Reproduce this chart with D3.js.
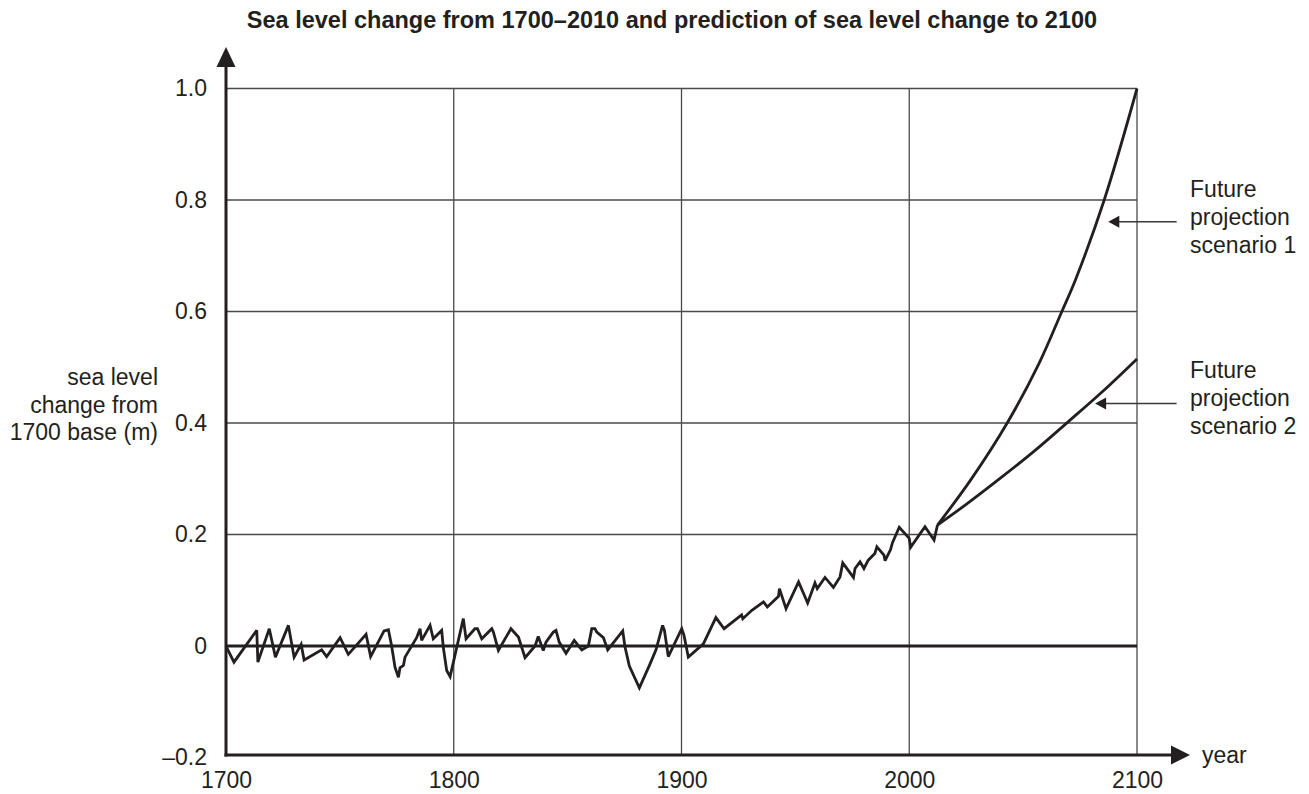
<!DOCTYPE html>
<html><head><meta charset="utf-8">
<script src="https://cdn.jsdelivr.net/npm/d3@7"></script>
<style>
body{margin:0;background:#fff}
svg text{font-family:"Liberation Sans",Arial,Helvetica,sans-serif;fill:#231f20}
</style>
</head><body>
<svg id="chart" width="1309" height="794"></svg>
<script>
// ---------- data ----------
const histYears = [1700,1703.5,1713.5,1714,1719,1721.7,1727.4,1729.9,1733,1734.3,1742,1744.2,1750.1,1753.7,1761.5,1763.5,1769.4,1771.3,1772.7,1774.2,1775.7,1776.4,1777.9,1778.6,1783.7,1785.2,1785.9,1789.6,1791,1794.7,1795.4,1796.9,1798.4,1804.2,1805.4,1809.3,1810.4,1812.3,1816.7,1817.4,1819.6,1825.1,1828.4,1831.3,1835.7,1837.1,1839.3,1840.5,1843.7,1844.9,1846.3,1849.3,1852.9,1856.2,1859.1,1860.6,1862,1862.8,1865.7,1867.6,1874.2,1875.2,1877.1,1881.5,1886.2,1888.8,1891.7,1892.5,1894.2,1900.1,1901.1,1903,1909.6,1915.1,1918.7,1926.4,1926.9,1930.9,1936,1937.7,1942.6,1943,1945.9,1951.4,1955.4,1958.6,1959.6,1963,1966.7,1969.6,1970.8,1975.5,1976.2,1978.4,1980.1,1982,1984.9,1985.8,1988.9,1989.4,1991.8,1992.6,1995.6,2000,2000.6,2006.9,2010.9,2012.4];
const histValues = [0,-0.029,0.028,-0.029,0.031,-0.02,0.037,-0.02,0.003,-0.025,-0.007,-0.019,0.015,-0.015,0.021,-0.019,0.027,0.029,0.001,-0.038,-0.056,-0.039,-0.035,-0.02,0.015,0.031,0.01,0.037,0.013,0.028,-0.002,-0.044,-0.055,0.049,0.013,0.031,0.031,0.013,0.031,0.025,-0.008,0.031,0.016,-0.021,0,0.017,-0.008,0.007,0.025,0.028,0.007,-0.013,0.01,-0.007,0,0.031,0.031,0.025,0.015,-0.007,0.027,-0.002,-0.036,-0.075,-0.032,-0.007,0.037,0.028,-0.019,0.031,0.019,-0.02,0.004,0.051,0.031,0.056,0.049,0.064,0.079,0.07,0.089,0.103,0.067,0.115,0.077,0.113,0.103,0.123,0.105,0.124,0.149,0.123,0.139,0.151,0.139,0.154,0.166,0.178,0.163,0.153,0.173,0.185,0.213,0.193,0.177,0.214,0.19,0.217];

const scen1Years  = [2012.4,2027,2043,2057,2067,2073,2085.6,2100];
const scen1Values = [0.217,0.298,0.4,0.507,0.6,0.657,0.8,1.0];
const scen2Years  = [2012.4,2025,2040,2055,2070,2085,2100];
const scen2Values = [0.217,0.254,0.301,0.350,0.403,0.457,0.515];

const xTicks = [1700,1800,1900,2000,2100];
const xTickLabels = ["1700","1800","1900","2000","2100"];
const yTicks = [-0.2,0,0.2,0.4,0.6,0.8,1.0];
const yTickLabels = ["–0.2","0","0.2","0.4","0.6","0.8","1.0"];
const yGridValues = [0.2,0.4,0.6,0.8,1.0];
const xGridValues = [1800,1900,2000,2100];

const titleText = "Sea level change from 1700–2010 and prediction of sea level change to 2100";
const yLabelLines = ["sea level","change from","1700 base (m)"];
const xLabelText = "year";
const annotations = [
  {lines:["Future","projection","scenario 1"], tipYear:2087.4, tipValue:0.761, fromYear:2117.4, textYear:2123.3},
  {lines:["Future","projection","scenario 2"], tipYear:2081.6, tipValue:0.435, fromYear:2117.4, textYear:2123.3}
];

// ---------- drawing ----------
const ink = "#231f20";
const svg = d3.select("#chart");
const x = d3.scaleLinear().domain([1700,2100]).range([226,1137]);
const y = d3.scaleLinear().domain([-0.2,1.0]).range([757.5,88.5]);
const fs = 23;

// title
svg.append("text").attr("x",672).attr("y",28).attr("text-anchor","middle")
  .style("font-weight","bold").style("font-size","23.5px").text(titleText);

// grid
const grid = svg.append("g");
grid.selectAll("line.h").data(yGridValues).join("line")
  .attr("x1",x(1700)).attr("x2",x(2100)).attr("y1",d=>y(d)).attr("y2",d=>y(d))
  .attr("stroke","#4a4a4a").attr("stroke-width",1.3);
grid.selectAll("line.v").data(xGridValues).join("line")
  .attr("x1",d=>x(d)).attr("x2",d=>x(d)).attr("y1",y(1.0)).attr("y2",y(-0.2)-2.5)
  .attr("stroke","#4a4a4a").attr("stroke-width",1.3);

// zero line
svg.append("line").attr("x1",x(1700)).attr("x2",x(2100)).attr("y1",y(0)).attr("y2",y(0))
  .attr("stroke",ink).attr("stroke-width",2.8);

// axes (labels via d3 axes)
const yAxis = d3.axisLeft(y).tickValues(yTicks).tickFormat((d,i)=>yTickLabels[i]).tickSize(0).tickPadding(19);
const gy = svg.append("g").attr("transform",`translate(${x(1700)},0)`).call(yAxis);
gy.select(".domain").remove();
gy.selectAll("text").style("font-size",fs+"px").attr("fill",ink).style("font-family",null);

const xAxis = d3.axisBottom(x).tickValues(xTicks).tickFormat((d,i)=>xTickLabels[i]).tickSize(0).tickPadding(14);
const gx = svg.append("g").attr("transform",`translate(0,${y(-0.2)})`).call(xAxis);
gx.select(".domain").remove();
gx.selectAll("text").style("font-size",fs+"px").attr("fill",ink).style("font-family",null);

// axis lines with arrows
const axY = y(-0.2)-2.5;
svg.append("line").attr("x1",x(1700)).attr("x2",x(1700)).attr("y1",axY+1.5).attr("y2",64)
  .attr("stroke",ink).attr("stroke-width",3);
svg.append("path").attr("d",`M${x(1700)},47 L${x(1700)-9.5},67 L${x(1700)+9.5},67 Z`).attr("fill",ink);
svg.append("line").attr("x1",x(1700)-1.5).attr("x2",1175).attr("y1",axY).attr("y2",axY)
  .attr("stroke",ink).attr("stroke-width",3);
svg.append("path").attr("d",`M1190,${axY} L1171,${axY-9.5} L1171,${axY+9.5} Z`).attr("fill",ink);
svg.append("text").attr("x",1202).attr("y",axY+8).style("font-size",fs+"px").text(xLabelText);

// y-axis label
svg.append("text").attr("text-anchor","end").style("font-size",fs+"px")
  .selectAll("tspan").data(yLabelLines).join("tspan")
  .attr("x",158).attr("y",(d,i)=>385+i*27.5).text(d=>d);

// historical line
const line = d3.line().x(d=>x(d[0])).y(d=>y(d[1]));
svg.append("path").datum(histYears.map((d,i)=>[d,histValues[i]]))
  .attr("d",line).attr("fill","none").attr("stroke",ink).attr("stroke-width",2.8)
  .attr("stroke-linejoin","miter").attr("stroke-miterlimit",3);

// projections
const curve = d3.line().x(d=>x(d[0])).y(d=>y(d[1])).curve(d3.curveCatmullRom.alpha(0.5));
svg.append("path").datum(scen1Years.map((d,i)=>[d,scen1Values[i]]))
  .attr("d",curve).attr("fill","none").attr("stroke",ink).attr("stroke-width",2.8);
svg.append("path").datum(scen2Years.map((d,i)=>[d,scen2Values[i]]))
  .attr("d",curve).attr("fill","none").attr("stroke",ink).attr("stroke-width",2.8);

// annotations
annotations.forEach(a=>{
  const ty = y(a.tipValue), tx = x(a.tipYear);
  svg.append("line").attr("x1",tx+10).attr("x2",x(a.fromYear)).attr("y1",ty).attr("y2",ty)
    .attr("stroke","#3a3a3a").attr("stroke-width",1.5);
  svg.append("path").attr("d",`M${tx},${ty} L${tx+11},${ty-6} L${tx+11},${ty+6} Z`).attr("fill",ink);
  svg.append("text").style("font-size",fs+"px")
    .selectAll("tspan").data(a.lines).join("tspan")
    .attr("x",x(a.textYear)).attr("y",(d,i)=>ty-25+i*28).text(d=>d);
});
</script>
</body></html>
